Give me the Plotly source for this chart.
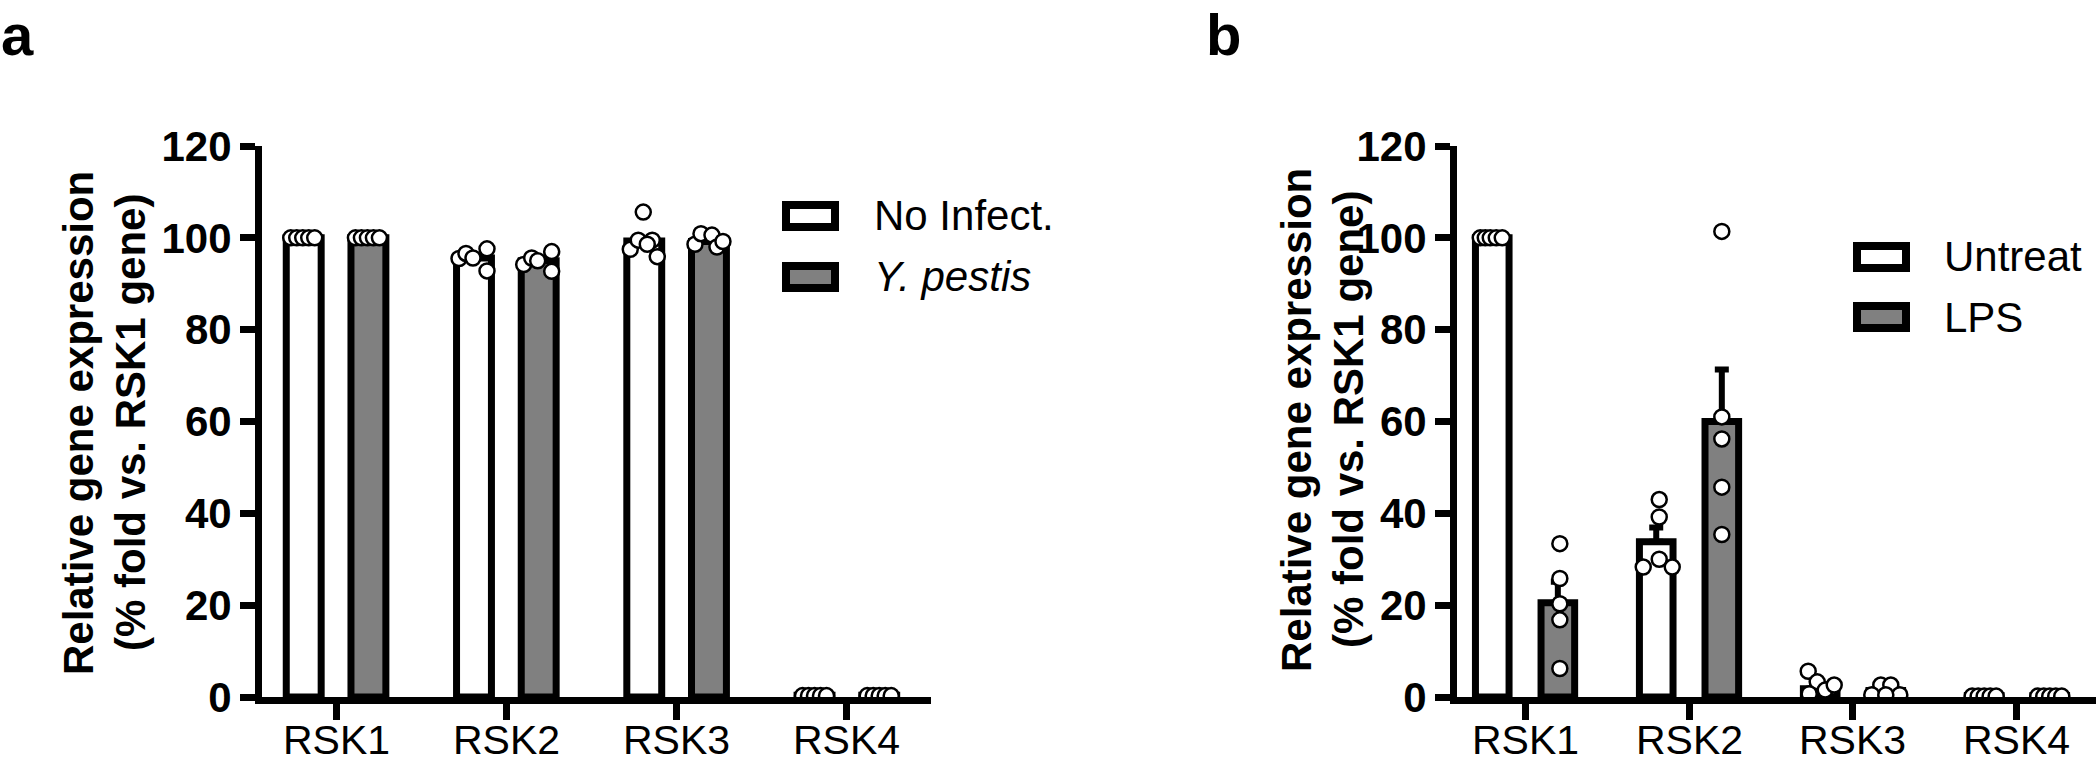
import plotly.graph_objects as go

# ---------------- data ----------------
CATEGORIES = ["RSK1", "RSK2", "RSK3", "RSK4"]
Y_TICKS = [0, 20, 40, 60, 80, 100, 120]

# Panel a
A_LABELS = ["No Infect.", "<i>Y. pestis</i>"]
A_NOINF_MEAN = [100.0, 95.6, 99.3, 0.4]
A_YPEST_MEAN = [100.0, 95.0, 99.2, 0.4]
A_NOINF_PTS = [[100, 100, 100, 100, 100],
               [95.5, 96.6, 95.6, 97.6, 92.8],
               [105.6, 97.5, 99.5, 99.5, 98.6, 95.9],
               [0.3, 0.3, 0.3, 0.3, 0.3]]
A_YPEST_PTS = [[100, 100, 100, 100, 100],
               [94.2, 95.6, 95.0, 97.0, 92.7],
               [98.6, 100.9, 100.6, 98.0, 99.2],
               [0.3, 0.3, 0.3, 0.3, 0.3]]

# Panel b
B_LABELS = ["Untreat", "LPS"]
B_UNTREAT_MEAN = [100.0, 33.8, 1.8, 0.3]
B_LPS_MEAN = [20.5, 60.0, 1.4, 0.3]
B_UNTREAT_SEM = [0.0, 3.1, 0.9, 0.0]
B_LPS_SEM = [4.6, 11.3, 0.5, 0.0]
B_UNTREAT_PTS = [[100, 100, 100, 100, 100],
                 [43.0, 39.2, 28.3, 30.0, 28.3],
                 [5.6, 3.3, 1.5, 2.6, 0.7],
                 [0.2, 0.2, 0.2, 0.2, 0.2]]
B_LPS_PTS = [[33.4, 25.8, 20.3, 16.8, 6.2],
             [101.4, 61.0, 56.2, 45.7, 35.4],
             [2.6, 2.6, 0.5, 0.5, 0.5],
             [0.2, 0.2, 0.2, 0.2, 0.2]]

# ---------------- style ----------------
W, H = 2100, 764
FONT = "Arial, Liberation Sans, sans-serif"
GRAY = "#808080"
LW = 7
BAR_W = 0.205
Y0_PX, Y120_PX = 697, 146

# horizontal scatter spread of points (pixels) - style only
A_JIT = [
    [[-13, -7, -1, 5, 11], [-15, -8, -1, 13, 13], [-1, -14, -6, 8, 3, 13], [-12, -6, 0, 6, 12]],
    [[-13, -7, -1, 5, 11], [-15, -7, -1, 13, 13], [-14, -8, 3, 8, 14], [-12, -6, 0, 6, 12]],
]
B_JIT = [
    [[-12, -7, -2, 4, 10], [3, 3, -13, 3, 16], [-12, -3, 5, 14, -11], [-12, -6, 0, 6, 12]],
    [[2, 2, 2, 2, 2], [0, 0, 0, 0, 0], [-5, 5, -14, 14, 0], [-12, -6, 0, 6, 12]],
]


def px(x):
    return x / W


def py(y):
    return 1 - y / H


fig = go.Figure()


def add_panel(suffix, means, sems, points, jit, spacing, off):
    xa = "x" + suffix
    ya = "y" + suffix
    fills = ["white", GRAY]
    for g in range(2):
        sign = -1 if g == 0 else 1
        xb = [i + sign * off for i in range(len(CATEGORIES))]
        err = None
        if sems is not None:
            err = dict(type="data", symmetric=False, array=sems[g],
                       arrayminus=[0] * len(sems[g]), color="black",
                       thickness=6, width=7)
        fig.add_trace(go.Bar(
            x=xb, y=means[g], width=BAR_W, xaxis=xa, yaxis=ya,
            marker=dict(color=fills[g], line=dict(color="black", width=LW)),
            error_y=err, showlegend=False, hoverinfo="skip"))
    for g in range(2):
        sign = -1 if g == 0 else 1
        xs, ys = [], []
        for i, vals in enumerate(points[g]):
            for k, v in enumerate(vals):
                xs.append(i + sign * off + jit[g][i][k] / spacing)
                ys.append(v)
        fig.add_trace(go.Scatter(
            x=xs, y=ys, mode="markers", xaxis=xa, yaxis=ya,
            marker=dict(size=15, color="white", line=dict(color="black", width=2.5)),
            showlegend=False, hoverinfo="skip"))


A_SP = 170.3
B_SP = 164.0
add_panel("", [A_NOINF_MEAN, A_YPEST_MEAN], None, [A_NOINF_PTS, A_YPEST_PTS], A_JIT, A_SP, 0.19)
add_panel("2", [B_UNTREAT_MEAN, B_LPS_MEAN], [B_UNTREAT_SEM, B_LPS_SEM],
          [B_UNTREAT_PTS, B_LPS_PTS], B_JIT, B_SP, 0.2)

xcommon = dict(showline=True, linecolor="black", linewidth=LW, ticks="outside",
               ticklen=16, tickwidth=LW, tickcolor="black", showgrid=False,
               zeroline=False, tickvals=list(range(len(CATEGORIES))),
               ticktext=CATEGORIES, showticklabels=False,
               automargin=False, fixedrange=True)
ycommon = dict(showline=True, linecolor="black", linewidth=LW, ticks="outside",
               ticklen=15, tickwidth=LW, tickcolor="black", showgrid=False,
               zeroline=False, range=[0, 120], tickvals=Y_TICKS,
               tickfont=dict(family=FONT, size=42, color="black", weight="bold"),
               automargin=False, fixedrange=True,
               domain=[py(Y0_PX), py(Y120_PX)])

fig.update_layout(
    width=W, height=H, autosize=False,
    margin=dict(l=0, r=0, t=0, b=0),
    paper_bgcolor="white", plot_bgcolor="white",
    barmode="overlay", showlegend=False,
    font=dict(family=FONT, color="black"),
    xaxis=dict(**xcommon, domain=[px(262), px(931)], range=[-0.435, 3.494], anchor="y"),
    yaxis=dict(**ycommon, anchor="x"),
    xaxis2=dict(**xcommon, domain=[px(1457), px(2096)], range=[-0.415, 3.482], anchor="y2"),
    yaxis2=dict(**ycommon, anchor="x2"),
)

ann = []
shapes = []
# category labels under the axes
for xref in ["x", "x2"]:
    for i, cat in enumerate(CATEGORIES):
        ann.append(dict(text=cat, x=i, y=py(715), xref=xref, yref="paper",
                        xanchor="center", yanchor="top", showarrow=False,
                        font=dict(family=FONT, size=41, color="black")))
# panel letters
ann.append(dict(text="<b>a</b>", x=px(-1), y=1, xref="paper", yref="paper",
                xanchor="left", yanchor="top", showarrow=False,
                font=dict(family=FONT, size=58, color="black")))
ann.append(dict(text="<b>b</b>", x=px(1204), y=1, xref="paper", yref="paper",
                xanchor="left", yanchor="top", showarrow=False,
                font=dict(family=FONT, size=58, color="black")))
# y titles
for x1, x2, yc in [(78, 130, 423), (1296, 1348, 420)]:
    ann.append(dict(text="<b>Relative gene expression</b>", x=px(x1), y=py(yc),
                    xref="paper", yref="paper", xanchor="center", yanchor="middle",
                    textangle=-90, showarrow=False,
                    font=dict(family=FONT, size=42, color="black")))
    ann.append(dict(text="<b>(% fold vs. RSK1 gene)</b>", x=px(x2), y=py(yc),
                    xref="paper", yref="paper", xanchor="center", yanchor="middle",
                    textangle=-90, showarrow=False,
                    font=dict(family=FONT, size=42, color="black")))

# legends (manual)
for (bx, tx, rows, labels) in [(786, 872, [216, 277], A_LABELS),
                               (1857, 1942, [257, 317], B_LABELS)]:
    for r, (yc, lab) in enumerate(zip(rows, labels)):
        fill = "white" if r == 0 else GRAY
        shapes.append(dict(type="rect", xref="paper", yref="paper",
                           x0=px(bx), x1=px(bx + 49), y0=py(yc - 11), y1=py(yc + 11),
                           line=dict(color="black", width=8), fillcolor=fill))
        ann.append(dict(text=lab, x=px(tx), y=py(yc), xref="paper", yref="paper",
                        xanchor="left", yanchor="middle", showarrow=False,
                        font=dict(family=FONT, size=42, color="black")))

fig.update_layout(annotations=ann, shapes=shapes)
fig.write_html("out.html", config={"displayModeBar": False},
               post_script="document.body.style.margin='0px';document.body.style.overflow='hidden';")
